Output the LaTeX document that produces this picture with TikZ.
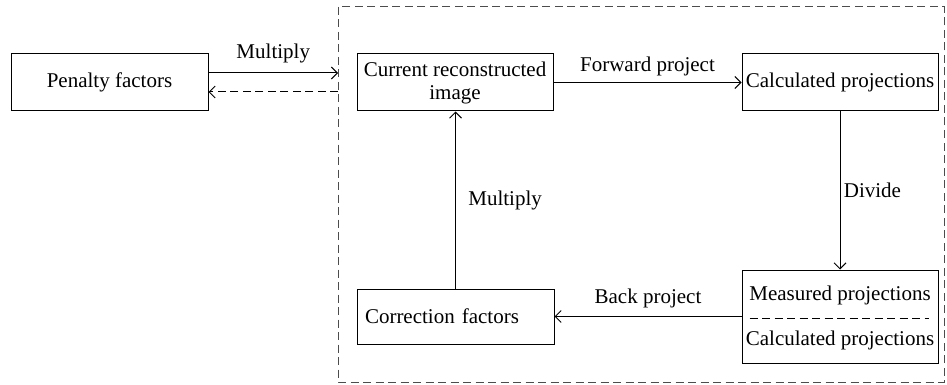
\documentclass[tikz,border=0pt]{standalone}
\usepackage{fontspec}
\setmainfont{Liberation Serif}
\usetikzlibrary{arrows.meta}

\begin{document}
\begin{tikzpicture}[x=1pt,y=-1pt,>={Straight Barb[length=6pt,width=12pt]},
    every node/.style={font=\fontsize{21}{23}\selectfont},
    box/.style={draw,line width=1pt,minimum width=196pt,minimum height=57pt,inner sep=0pt,align=center},
    sep/.style={dash pattern=on 8pt off 4.5pt},
    line width=1pt]
    \useasboundingbox (0,0) rectangle (947,385);

    \node[box,minimum width=197pt] (pen) at (109.5,82.5) {Penalty factors};
    \node[box] (cur) at (455,82.5) {Current reconstructed\\image};
    \node[box] (calc) at (840,82.5) {Calculated projections};
    \node[box,minimum height=93pt] (meas) at (840,316.5) {};
    \node (measT) at (840,295) {Measured projections};
    \node (measB) at (840,340) {Calculated projections};
    \node[box,text width=181pt,align=left,inner xsep=8pt,minimum height=55pt] (corr) at (455.5,316.5) {Correction factors};

    % outer frame
    \draw[sep,black!70] (338,7) rectangle (944,382);
    \coordinate (fin) at (338,73);
    \coordinate (fout) at (338,92);

    \draw[sep] ([xshift=8pt,yshift=-1.5pt]meas.west) -- ([xshift=-10pt,yshift=-1.5pt]meas.east);

    \draw[->] (pen.east |- fin) -- node[above=6pt] {Multiply} (fin);
    \draw[->,sep] (fout) -- (pen.east |- fout);
    \draw[->] (cur.east) -- node[above=3pt] {Forward project} (calc.west);
    \draw[->] (calc.south) -- node[right] {Divide} (meas.north);
    \draw[->] (meas.west) -- node[above=5pt] {Back project} (corr.east);
    \draw[->] (corr.north) -- node[right=9pt] {Multiply} (corr.north |- cur.south);
\end{tikzpicture}
\end{document}
